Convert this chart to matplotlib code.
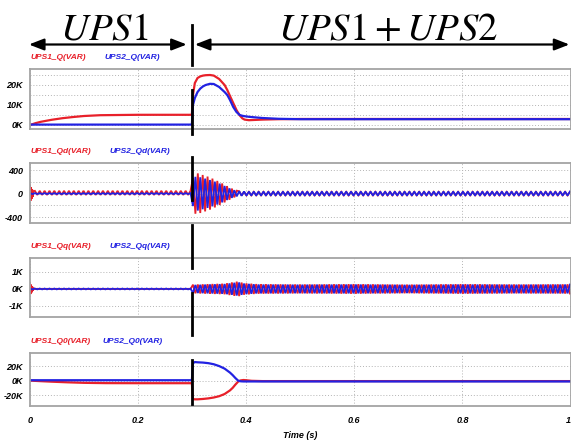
"""
Reactive power sharing of UPS1 / UPS2 (Q, Qd, Qq, Q0) before and after UPS2 joins.
"""

import numpy as np
import matplotlib
matplotlib.use("Agg")
import matplotlib.pyplot as plt
from matplotlib import transforms
from matplotlib.lines import Line2D

# ---- data ------------------------------------------------------------------
SWITCH_T = 0.3  # UPS2 connected

# total Q (VAR)
q_t = [0, 0.01, 0.02, 0.04, 0.06, 0.08, 0.10, 0.13, 0.20, 0.2995,
       0.3015, 0.305, 0.31, 0.315, 0.32, 0.325, 0.333, 0.34, 0.35, 0.36,
       0.365, 0.37, 0.376, 0.382, 0.388, 0.393, 0.397, 0.405, 0.413, 0.43,
       0.46, 0.50, 0.60, 0.80, 1.0]
q_ups1 = [0, 900, 1600, 2600, 3400, 4000, 4500, 4900, 5100, 5100,
          15000, 21000, 23500, 24300, 24700, 24900, 25000, 24700, 23000, 20000,
          17500, 14500, 11000, 7500, 4800, 3300, 2700, 2400, 2500, 2700,
          2900, 3000, 3000, 3000, 3000]
q_ups2 = [200, 200, 200, 200, 200, 200, 200, 200, 200, 200,
          10000, 13500, 16500, 18200, 19300, 20000, 20600, 20500, 19000, 16500,
          15000, 12500, 9000, 6500, 5000, 4600, 4400, 4100, 3900, 3500,
          3100, 2900, 2900, 2900, 2900]

# zero-sequence Q0 (VAR)
q0_t = [0, 0.02, 0.04, 0.07, 0.10, 0.14, 0.20, 0.2995,
        0.3015, 0.305, 0.31, 0.32, 0.33, 0.34, 0.35, 0.36, 0.37, 0.375,
        0.38, 0.385, 0.39, 0.395, 0.40, 0.41, 0.43, 0.60, 1.0]
q0_ups1 = [0, -800, -1500, -2400, -3100, -3500, -3600, -3600,
           -25500, -25800, -25800, -25300, -24500, -23300, -21500, -18500, -13500, -10000,
           -5500, -1500, 300, 800, 500, -300, -700, -700, -700]
q0_ups2 = [500, 500, 500, 500, 500, 500, 500, 500,
           24000, 25500, 25200, 24800, 24000, 22500, 20000, 16500, 11000, 7500,
           3500, 0, -1000, -1200, -1200, -1200, -1200, -1200, -1200]

# Qd ripple envelope (VAR, peak)
qd_env_t = [0.0, 0.3, 0.302, 0.31, 0.32, 0.33, 0.34, 0.35, 0.36, 0.37, 0.38, 0.39, 0.40, 1.0]
qd_ups1_env = [35, 35, 340, 345, 315, 285, 245, 200, 150, 100, 55, 34, 30, 30]
qd_ups2_env = [8, 8, 280, 290, 265, 240, 210, 175, 130, 85, 50, 38, 35, 35]
qd_ups1_bias = 12          # offset of UPS1 ripple before 0.3 s
qd_spike_t = [0.0, 0.006]  # start-up spike of UPS1
qd_spike_a = [140, 40]

# Qq ripple envelope (VAR, peak)
qq_env_t = [0.0, 0.3, 0.301, 0.33, 0.36, 0.375, 0.385, 0.395, 0.42, 0.5, 0.6, 0.7, 0.8, 0.9, 1.0]
qq_ups1_env = [10, 10, 250, 280, 310, 390, 440, 340, 280, 260, 280, 250, 280, 260, 270]
qq_ups2_env = [25, 25, 230, 260, 290, 350, 400, 320, 260, 250, 260, 240, 260, 250, 260]
qq_spike_t = [0.0, 0.006]
qq_spike_a = [350, 60]

QD_HALF = 0.0045   # half period of the ripple (s)
QQ_HALF = 0.0045

x_ticks = [0, 0.2, 0.4, 0.6, 0.8, 1.0]
x_labels = ["0", "0.2", "0.4", "0.6", "0.8", "1"]

panel_names = [("UPS1_Q(VAR)", "UPS2_Q(VAR)"),
               ("UPS1_Qd(VAR)", "UPS2_Qd(VAR)"),
               ("UPS1_Qq(VAR)", "UPS2_Qq(VAR)"),
               ("UPS1_Q0(VAR)", "UPS2_Q0(VAR)")]
y_ticks = [[0, 10000, 20000], [-400, 0, 400], [-1000, 0, 1000], [-20000, 0, 20000]]
y_labels = [["0K", "10K", "20K"], ["-400", "0", "400"], ["-1K", "0K", "1K"], ["-20K", "0K", "20K"]]
y_minor = [[5000, 15000, 25000], [-200, 200], [], []]
y_lims = [(-2000, 28000), (-500, 520), (-1650, 1820), (-35000, 38000)]

# ---- layout (pixels of the 571x443 picture) ---------------------------------
W, H = 571, 443
panel_px = [(69, 129), (163, 223), (258, 317), (353, 406)]   # top, bottom
blue_label_dx = [54, 57.5, 57.5, 52]                          # points
vline_px = [(25, 65), (90, 134), (157, 200), (225, 268), (293, 335), (360, 404)]

RED = "#e8202a"
BLUE = "#2222e2"
GRID = "#b4b4b4"
SPINE = "#a4a4a4"

plt.rcParams["font.family"] = ["Liberation Sans", "DejaVu Sans"]
plt.rcParams["mathtext.fontset"] = "stix"


def ripple(t_from, t_to, half, env_t, env_a, flip=False, bias=0.0):
    """Zig-zag through alternating peaks of the given envelope."""
    k = np.arange(np.ceil(t_from / half), np.floor(t_to / half) + 1)
    tt = k * half
    sign = np.where(k % 2 == 0, 1.0, -1.0)
    if flip:
        sign = -sign
    return tt, bias + sign * np.interp(tt, env_t, env_a)


def join(*parts):
    return (np.concatenate([p[0] for p in parts]),
            np.concatenate([p[1] for p in parts]))


# Qd traces
qd1 = join(ripple(0.0, 0.006, 0.001, qd_spike_t, qd_spike_a),
           ripple(0.0065, SWITCH_T, QD_HALF, qd_env_t, qd_ups1_env, bias=qd_ups1_bias),
           ripple(SWITCH_T, 0.385, QD_HALF, qd_env_t, qd_ups1_env, flip=True),
           ripple(0.386, 1.0, QD_HALF, qd_env_t, qd_ups1_env))
qd2 = ripple(0.0, 1.0, QD_HALF, qd_env_t, qd_ups2_env)

# Qq traces
qq1 = join(ripple(0.0, 0.006, 0.001, qq_spike_t, qq_spike_a),
           ripple(0.0065, 1.0, QQ_HALF, qq_env_t, qq_ups1_env, flip=True))
qq2 = ripple(0.0, 1.0, QQ_HALF, qq_env_t, qq_ups2_env)

series = [((q_t, q_ups1), (q_t, q_ups2), 1.6),
          (qd1, qd2, 1.3),
          (qq1, qq2, 1.3),
          ((q0_t, q0_ups1), (q0_t, q0_ups2), 1.6)]

fig = plt.figure(figsize=(W / 100, H / 100), dpi=100)
fig.patch.set_facecolor("white")

axes = []
for i, (top, bottom) in enumerate(panel_px):
    ax = fig.add_axes([30 / W, 1 - bottom / H, 540.5 / W, (bottom - top) / H])
    (t1, v1), (t2, v2), lw = series[i]
    ax.plot(t1, v1, color=RED, lw=lw, solid_joinstyle="miter")
    ax.plot(t2, v2, color=BLUE, lw=lw, solid_joinstyle="miter")

    ax.set_xlim(0, 1)
    ax.set_ylim(*y_lims[i])
    ax.set_xticks(x_ticks)
    ax.set_yticks(y_ticks[i], y_labels[i])
    ax.set_yticks(y_minor[i], minor=True)
    ax.grid(True, which="both", color=GRID, linestyle=(0, (1, 2)), lw=0.7)
    ax.set_axisbelow(True)
    ax.tick_params(which="both", length=0)
    ax.tick_params(axis="y", pad=5, labelsize=6.5)
    for lbl in ax.get_yticklabels():
        lbl.set_fontstyle("italic")
        lbl.set_fontweight("bold")
    if i < 3:
        ax.set_xticklabels([])
    else:
        ax.set_xticklabels(x_labels, fontsize=6.5, fontstyle="italic", fontweight="bold")
        ax.tick_params(axis="x", pad=7)
        ax.get_xticklabels()[-1].set_horizontalalignment("right")
    for sp in ax.spines.values():
        sp.set_color(SPINE)
        sp.set_linewidth(1.3)

    red_name, blue_name = panel_names[i]
    ax.annotate(red_name, xy=(0, 1), xycoords="axes fraction", xytext=(0.5, 8.5),
                textcoords="offset points", ha="left", va="center", color=RED,
                fontsize=6, fontstyle="italic", fontweight="bold")
    ax.annotate(blue_name, xy=(0, 1), xycoords="axes fraction", xytext=(blue_label_dx[i], 8.5),
                textcoords="offset points", ha="left", va="center", color=BLUE,
                fontsize=6, fontstyle="italic", fontweight="bold")
    axes.append(ax)

ax_top, ax_bot = axes[0], axes[-1]
fig.text(0.5 * (30 + 570.5) / W, 1 - 435 / H, "Time (s)", ha="center", va="center",
         fontsize=6.5, fontstyle="italic", fontweight="bold")

# header: operating intervals
head = transforms.blended_transform_factory(ax_top.transData, fig.transFigure)
arrow_y = 1 - 44.5 / H
arrow_kw = dict(arrowstyle="<|-|>,head_length=0.9,head_width=0.35", color="black",
                lw=1.6, mutation_scale=10, shrinkA=0, shrinkB=0)
ax_top.annotate("", xy=(-0.002, arrow_y), xytext=(0.29, arrow_y), xycoords=head,
                textcoords=head, arrowprops=arrow_kw, annotation_clip=False)
ax_top.annotate("", xy=(0.305, arrow_y), xytext=(0.998, arrow_y), xycoords=head,
                textcoords=head, arrowprops=arrow_kw, annotation_clip=False)
fig.text(0.138, 1 - 40 / H, r"$UPS1$", transform=head, ha="center", va="baseline",
         fontsize=28)
fig.text(0.662, 1 - 40 / H, r"$UPS1+UPS2$", transform=head, ha="center", va="baseline",
         fontsize=28)

# switching instant marker
for y0, y1 in vline_px:
    fig.add_artist(Line2D([SWITCH_T, SWITCH_T], [1 - y0 / H, 1 - y1 / H],
                          transform=head, color="black", lw=2.0, zorder=10))

fig.savefig("out.png", dpi=100, facecolor="white")
